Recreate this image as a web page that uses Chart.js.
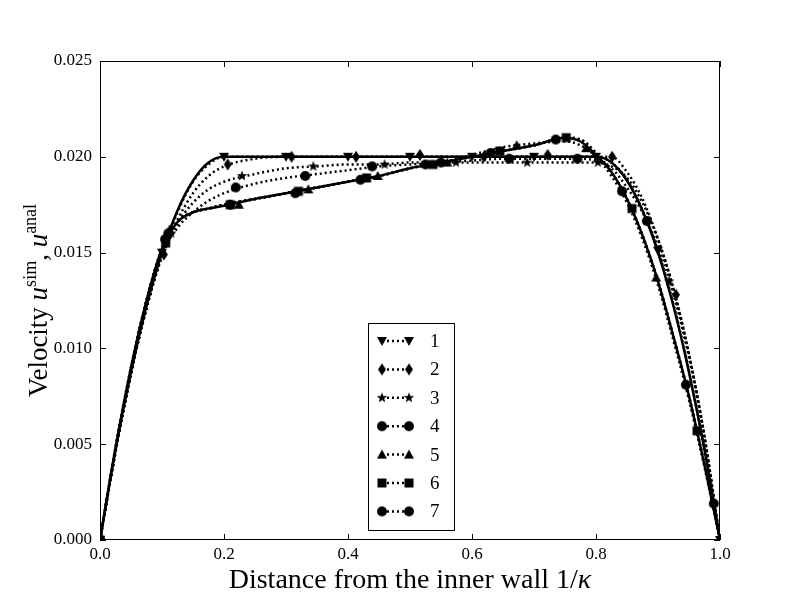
<!DOCTYPE html>
<html>
<head>
<meta charset="utf-8">
<script src="https://cdn.jsdelivr.net/npm/chart.js@4.4.0/dist/chart.umd.min.js"></script>
<style>
  html, body { margin: 0; padding: 0; background: #fff; }
  #wrap { width: 800px; height: 600px; }
</style>
</head>
<body>
<div id="wrap"><canvas id="myChart" width="800" height="600"></canvas></div>
<script>
// x grid used by all the curves
const xs = [0, 0.025, 0.05, 0.075, 0.1, 0.125, 0.15, 0.175, 0.2, 0.25, 0.3, 0.35, 0.4, 0.45, 0.5,
  0.55, 0.6, 0.65, 0.7, 0.75, 0.775, 0.8, 0.825, 0.85, 0.875, 0.9, 0.925, 0.95, 0.975, 1.0];

// analytical solutions (solid)
const anal1 = [0, 0.0047, 0.00875, 0.0122, 0.0150, 0.0172, 0.01875, 0.0197, 0.0200, 0.0200, 0.0200, 0.0200, 0.0200, 0.0200, 0.0200,
  0.0200, 0.0200, 0.0200, 0.0200, 0.0200, 0.0200, 0.0200, 0.0197, 0.01875, 0.0172, 0.0150, 0.0122, 0.00875, 0.0047, 0];
const anal7 = [0, 0.0048, 0.0090, 0.0125, 0.0152, 0.0166, 0.0171, 0.0173, 0.01745, 0.0178, 0.0181, 0.0184, 0.0187, 0.0190, 0.0194,
  0.0197, 0.0200, 0.0203, 0.0206, 0.0210, 0.0208, 0.0201, 0.0192, 0.0178, 0.0159, 0.0135, 0.0106, 0.0075, 0.0039, 0];

// simulated profiles (dotted)
const sim1 = [0, 0.0046, 0.0087, 0.0121, 0.0149, 0.0171, 0.0187, 0.0196, 0.0200, 0.0200, 0.0200, 0.0200, 0.0200, 0.0200, 0.0200,
  0.0200, 0.0200, 0.0200, 0.0200, 0.0200, 0.0200, 0.0200, 0.0197, 0.0188, 0.0172, 0.0151, 0.0123, 0.0088, 0.0047, 0];
const sim2 = [0, 0.0046, 0.0087, 0.0121, 0.0148, 0.0167, 0.0181, 0.0190, 0.0195, 0.0199, 0.0200, 0.0200, 0.0200, 0.0200, 0.0200,
  0.0200, 0.0200, 0.0200, 0.0200, 0.0200, 0.0200, 0.0200, 0.0200, 0.0192, 0.0178, 0.0157, 0.0131, 0.0097, 0.0054, 0];
const sim3 = [0, 0.0046, 0.0087, 0.0121, 0.0148, 0.0165, 0.0176, 0.0183, 0.0187, 0.0191, 0.0194, 0.0195, 0.0196, 0.0196, 0.0197,
  0.0197, 0.0197, 0.0197, 0.0197, 0.0197, 0.0197, 0.0197, 0.0195, 0.0189, 0.0176, 0.0157, 0.0131, 0.0097, 0.0054, 0];
const sim4 = [0, 0.0046, 0.0087, 0.0121, 0.0149, 0.0163, 0.0171, 0.0177, 0.0181, 0.0186, 0.0189, 0.0191, 0.0193, 0.0195, 0.0196,
  0.0197, 0.0198, 0.0199, 0.0199, 0.0199, 0.0199, 0.0198, 0.0194, 0.0184, 0.0171, 0.0153, 0.0128, 0.0095, 0.0053, 0];
const sim5 = [0, 0.0048, 0.0090, 0.0125, 0.0152, 0.0166, 0.0171, 0.0173, 0.0175, 0.0178, 0.0181, 0.0184, 0.0187, 0.0190, 0.0194,
  0.0197, 0.0201, 0.0205, 0.0207, 0.0208, 0.0206, 0.0200, 0.0190, 0.0176, 0.0157, 0.0133, 0.0104, 0.0073, 0.0038, 0];
const sim6 = [0, 0.0048, 0.0090, 0.0125, 0.0152, 0.0166, 0.0171, 0.0173, 0.0175, 0.0178, 0.0181, 0.0184, 0.0187, 0.0190, 0.0194,
  0.0197, 0.0200, 0.0203, 0.0206, 0.0210, 0.0209, 0.0202, 0.0192, 0.0178, 0.0159, 0.0135, 0.0106, 0.0075, 0.0039, 0];
const sim7 = [0, 0.0048, 0.0090, 0.0125, 0.0152, 0.0166, 0.0171, 0.0173, 0.0175, 0.0178, 0.0181, 0.0184, 0.0187, 0.0190, 0.0194,
  0.0197, 0.0200, 0.0203, 0.0206, 0.0210, 0.0209, 0.0202, 0.0192, 0.0178, 0.0159, 0.0135, 0.0106, 0.0075, 0.0039, 0];

// marker positions of each series
const mx1 = [0, 0.1, 0.2, 0.3, 0.4, 0.5, 0.6, 0.7, 0.8, 0.9, 1.0];
const my1 = [0, 0.0150, 0.0200, 0.0200, 0.0200, 0.0200, 0.0200, 0.0200, 0.0200, 0.0151, 0];
const mx2 = [0, 0.103, 0.206, 0.309, 0.413, 0.516, 0.619, 0.722, 0.826, 0.929];
const my2 = [0, 0.0149, 0.0196, 0.0200, 0.0200, 0.0201, 0.0200, 0.0201, 0.0200, 0.0128];
const mx3 = [0, 0.115, 0.229, 0.344, 0.459, 0.574, 0.689, 0.803, 0.918];
const my3 = [0, 0.0160, 0.0190, 0.0195, 0.0196, 0.0197, 0.0197, 0.0197, 0.0135];
const mx4 = [0, 0.11, 0.219, 0.331, 0.439, 0.55, 0.66, 0.77, 0.882, 0.99];
const my4 = [0, 0.0160, 0.0184, 0.0190, 0.0195, 0.0197, 0.0199, 0.0199, 0.01665, 0.0019];
const mx5 = [0, 0.112, 0.224, 0.336, 0.448, 0.56, 0.672, 0.784, 0.897];
const my5 = [0, 0.0162, 0.0175, 0.0183, 0.0190, 0.0197, 0.0206, 0.02045, 0.0137];
const mx6 = [0, 0.106, 0.21, 0.32, 0.43, 0.537, 0.645, 0.752, 0.858, 0.963];
const my6 = [0, 0.0155, 0.0175, 0.0182, 0.0189, 0.0196, 0.0203, 0.0210, 0.0173, 0.0057];
const mx7 = [0, 0.105, 0.21, 0.315, 0.42, 0.525, 0.63, 0.735, 0.842, 0.945];
const my7 = [0, 0.0157, 0.0175, 0.0181, 0.0188, 0.0196, 0.0202, 0.0209, 0.0182, 0.0081];

const labels = ['1', '2', '3', '4', '5', '6', '7'];
const xTicks = [0, 0.2, 0.4, 0.6, 0.8, 1.0];
const yTicks = [0, 0.005, 0.010, 0.015, 0.020, 0.025];

const serif = "'Liberation Serif', 'DejaVu Serif', serif";

function makeMarker(kind) {
  var c = document.createElement('canvas');
  c.width = 14; c.height = 14;
  var g = c.getContext('2d');
  var m = 7;
  g.fillStyle = '#000';
  g.beginPath();
  if (kind == 'tridown') { g.moveTo(m - 5, m - 4); g.lineTo(m + 5, m - 4); g.lineTo(m, m + 5); }
  else if (kind == 'triup') { g.moveTo(m - 5, m + 4); g.lineTo(m + 5, m + 4); g.lineTo(m, m - 5); }
  else if (kind == 'diamond') { g.moveTo(m, m - 6); g.lineTo(m + 4, m); g.lineTo(m, m + 6); g.lineTo(m - 4, m); }
  else if (kind == 'square') { g.rect(m - 4.5, m - 4.5, 9, 9); }
  else if (kind == 'circle') { g.arc(m, m, 5, 0, 2 * Math.PI); }
  else if (kind == 'star') {
    for (var k = 0; k < 10; k++) {
      var r = k % 2 == 0 ? 5.5 : 2.3;
      var a = -Math.PI / 2 + k * Math.PI / 5;
      if (k == 0) g.moveTo(m + r * Math.cos(a), m + r * Math.sin(a));
      else g.lineTo(m + r * Math.cos(a), m + r * Math.sin(a));
    }
  }
  g.closePath();
  g.fill();
  return c;
}

const markers = [makeMarker('tridown'), makeMarker('diamond'), makeMarker('star'), makeMarker('circle'),
  makeMarker('triup'), makeMarker('square'), makeMarker('circle')];

const sims = [sim1, sim2, sim3, sim4, sim5, sim6, sim7];
const mxs = [mx1, mx2, mx3, mx4, mx5, mx6, mx7];
const mys = [my1, my2, my3, my4, my5, my6, my7];

function pts(xv, yv) { return xv.map((x, i) => ({ x: x, y: yv[i] })); }

var datasets = [];
// markers on top
for (var i = 0; i < 7; i++) {
  datasets.push({
    data: pts(mxs[i], mys[i]), showLine: false,
    pointStyle: markers[i], pointRadius: 5, pointHoverRadius: 5,
    backgroundColor: '#000', borderColor: '#000'
  });
}
for (var i = 0; i < 7; i++) {
  datasets.push({
    data: pts(xs, sims[i]), showLine: true, pointRadius: 0,
    borderColor: '#000', borderWidth: 2.5, borderDash: [2, 3],
    cubicInterpolationMode: 'monotone'
  });
}
[anal1, anal7].forEach(a => {
  datasets.push({
    data: pts(xs, a), showLine: true, pointRadius: 0,
    borderColor: '#000', borderWidth: 2.5,
    cubicInterpolationMode: 'monotone'
  });
});

const decor = {
  id: 'decor',
  afterDraw(chart) {
    const ctx = chart.ctx;
    const a = chart.chartArea;
    const sx = chart.scales.x, sy = chart.scales.y;
    ctx.save();
    ctx.strokeStyle = '#000';
    ctx.lineWidth = 1;
    ctx.setLineDash([]);
    ctx.strokeRect(a.left + 0.5, a.top + 0.5, a.right - a.left - 1, a.bottom - a.top - 1);
    ctx.beginPath();
    xTicks.forEach(v => {
      const p = Math.round(sx.getPixelForValue(v)) + 0.5;
      ctx.moveTo(p, a.bottom); ctx.lineTo(p, a.bottom - 6);
      ctx.moveTo(p, a.top); ctx.lineTo(p, a.top + 6);
    });
    yTicks.forEach(v => {
      const p = Math.round(sy.getPixelForValue(v)) + 0.5;
      ctx.moveTo(a.left, p); ctx.lineTo(a.left + 6, p);
      ctx.moveTo(a.right, p); ctx.lineTo(a.right - 6, p);
    });
    ctx.stroke();

    // x title
    ctx.fillStyle = '#000';
    ctx.textBaseline = 'alphabetic';
    const t1 = 'Distance from the inner wall 1/';
    ctx.font = '28px ' + serif;
    const w1 = ctx.measureText(t1).width;
    ctx.font = 'italic 28px ' + serif;
    const w2 = ctx.measureText('κ').width;
    let x0 = (a.left + a.right) / 2 - (w1 + w2) / 2;
    ctx.font = '28px ' + serif;
    ctx.fillText(t1, x0, 588);
    ctx.font = 'italic 28px ' + serif;
    ctx.fillText('κ', x0 + w1, 588);

    // y title
    const parts = [
      ['Velocity ', '27px ', 0], ['u', 'italic 27px ', 0], ['sim', '18px ', -11],
      [', ', '27px ', 0], ['u', 'italic 27px ', 0], ['anal', '18px ', -11]
    ];
    let tot = 0;
    parts.forEach(p => { ctx.font = p[1] + serif; tot += ctx.measureText(p[0]).width; });
    ctx.translate(47, (a.top + a.bottom) / 2);
    ctx.rotate(-Math.PI / 2);
    let cx = -tot / 2;
    parts.forEach(p => {
      ctx.font = p[1] + serif;
      ctx.fillText(p[0], cx, p[2]);
      cx += ctx.measureText(p[0]).width;
    });
    ctx.restore();

    // legend
    ctx.save();
    ctx.fillStyle = '#fff';
    ctx.fillRect(368, 323, 86, 207);
    ctx.strokeStyle = '#000';
    ctx.lineWidth = 1;
    ctx.strokeRect(368.5, 323.5, 86, 207);
    ctx.font = '19px ' + serif;
    ctx.textBaseline = 'middle';
    for (let i = 0; i < 7; i++) {
      const yy = 341 + i * 28.4;
      ctx.setLineDash([2, 3]);
      ctx.lineWidth = 2.5;
      ctx.beginPath();
      ctx.moveTo(382, yy); ctx.lineTo(409, yy);
      ctx.stroke();
      ctx.setLineDash([]);
      const m = markers[i];
      ctx.drawImage(m, 382 - m.width / 2, yy - m.height / 2);
      ctx.drawImage(m, 409 - m.width / 2, yy - m.height / 2);
      ctx.fillStyle = '#000';
      ctx.fillText(labels[i], 430, yy + 1);
    }
    ctx.restore();
  }
};

const ctx = document.getElementById('myChart');
var chart = new Chart(ctx, {
  type: 'scatter',
  data: { datasets: datasets },
  options: {
    responsive: false,
    animation: false,
    devicePixelRatio: 1,
    layout: { padding: { top: 61, right: 80, left: 0, bottom: 0 } },
    plugins: { legend: { display: false }, tooltip: { enabled: false } },
    scales: {
      x: {
        type: 'linear', min: 0, max: 1,
        grid: { display: false, drawTicks: false }, border: { display: false },
        ticks: { stepSize: 0.2, color: '#000', padding: 4, font: { family: serif, size: 17 },
          callback: v => v.toFixed(1) },
        afterFit: s => { s.height = 60; }
      },
      y: {
        min: 0, max: 0.025,
        grid: { display: false, drawTicks: false }, border: { display: false },
        ticks: { stepSize: 0.005, color: '#000', padding: 8, font: { family: serif, size: 17 },
          callback: v => v.toFixed(3) },
        afterFit: s => { s.width = 100; }
      }
    }
  },
  plugins: [decor]
});
</script>
</body>
</html>
